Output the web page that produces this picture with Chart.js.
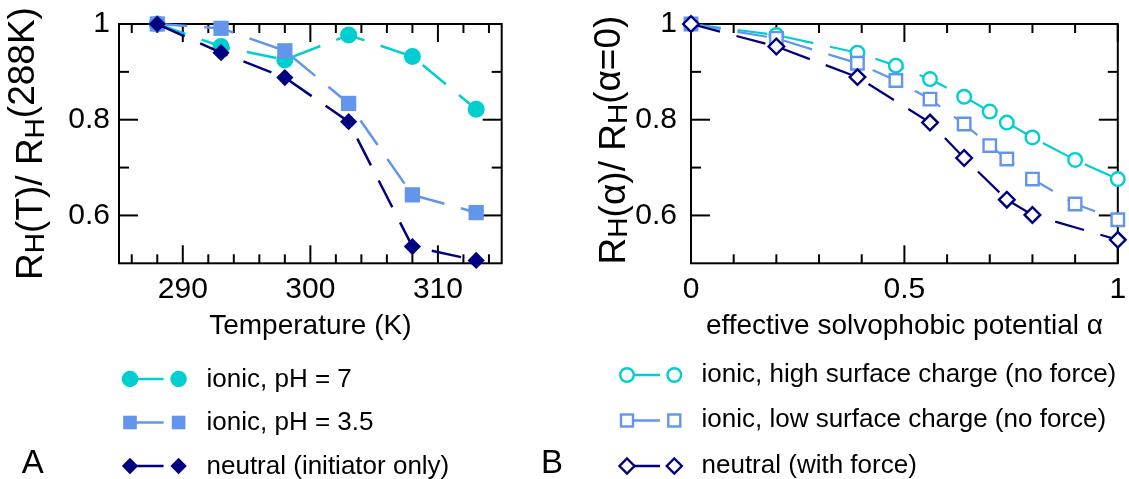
<!DOCTYPE html>
<html><head><meta charset="utf-8">
<script src="https://cdn.jsdelivr.net/npm/chart.js@4"></script>
<style>
html,body{margin:0;padding:0;background:#fff;width:1129px;height:479px;overflow:hidden}
#c1{position:absolute;left:0;top:0}
#c2{position:absolute;left:560px;top:0}
#ov{position:absolute;left:0;top:0}
</style></head><body>
<canvas id="c1" width="560" height="345"></canvas>
<canvas id="c2" width="569" height="345"></canvas>
<svg id="ov" width="1129" height="479" xmlns="http://www.w3.org/2000/svg"></svg>
<script>
// ---------- data ----------
const tempK = [288, 293, 298, 303, 308, 313];
const ionicPH7 = [1.0, 0.953, 0.925, 0.977, 0.932, 0.822];
const ionicPH35 = [1.0, 0.991, 0.944, 0.834, 0.643, 0.606];
const neutralInit = [1.0, 0.940, 0.888, 0.796, 0.535, 0.506];

const alphaIonic = [0, 0.2, 0.39, 0.48, 0.56, 0.64, 0.70, 0.74, 0.80, 0.90, 1.0];
const ionicHigh = [1.0, 0.977, 0.940, 0.913, 0.885, 0.848, 0.817, 0.794, 0.763, 0.716, 0.676];
const ionicLow  = [1.0, 0.970, 0.918, 0.882, 0.843, 0.791, 0.746, 0.718, 0.676, 0.624, 0.591];
const alphaNeutral = [0, 0.2, 0.39, 0.56, 0.64, 0.74, 0.80, 1.0];
const neutralForce = [1.0, 0.953, 0.889, 0.794, 0.720, 0.633, 0.601, 0.549];

const xTicksA = [290, 300, 310];
const xTicksB = [0, 0.5, 1];
const yTicks = [0.6, 0.8, 1.0];

const labelsA = ['ionic, pH = 7', 'ionic, pH = 3.5', 'neutral (initiator only)'];
const labelsB = ['ionic, high surface charge (no force)', 'ionic, low surface charge (no force)', 'neutral (with force)'];

const CYAN = '#00CED1', BLUE = '#6495ED', NAVY = '#000080';
const FONT = "'Liberation Sans', Arial, Helvetica, sans-serif";

function pts(xs, ys){ return xs.map((x,i)=>({x:x, y:ys[i]})); }
function range(a,b,s){ const r=[]; for(let v=a; v<=b+1e-9; v+=s) r.push(Math.round(v*1000)/1000); return r; }

// ---------- frame + inward ticks plugin ----------
const frameTicks = {
  id:'frameTicks',
  beforeDatasetsDraw(chart, args, o){
    const {ctx, chartArea:a} = chart; const x = chart.scales.x, y = chart.scales.y;
    ctx.save();
    ctx.strokeStyle = '#000'; ctx.lineWidth = 2; ctx.lineCap = 'butt';
    const seg=(x1,y1,x2,y2)=>{ctx.beginPath();ctx.moveTo(x1,y1);ctx.lineTo(x2,y2);ctx.stroke();};
    const drawX=(vals,len)=>vals.forEach(v=>{const p=x.getPixelForValue(v); seg(p,a.bottom,p,a.bottom-len); seg(p,a.top,p,a.top+len);});
    const drawY=(vals,len)=>vals.forEach(v=>{const p=y.getPixelForValue(v); seg(a.left,p,a.left+len,p); seg(a.right,p,a.right-len,p);});
    drawX(o.xMinor, 9); drawX(o.xMajor, 18);
    drawY(o.yMinor, 10); drawY(o.yMajor, 19);
    ctx.strokeRect(a.left, a.top, a.right-a.left, a.bottom-a.top);
    ctx.restore();
  }
};

function makeChart(id, cfg){
  return new Chart(document.getElementById(id), {
    type:'line',
    data:{datasets:cfg.datasets},
    plugins:[frameTicks],
    options:{
      responsive:false, animation:false, events:[],
      layout:{padding:{left:0, right:cfg.padRight, top:24, bottom:0}},
      plugins:{legend:{display:false}, tooltip:{enabled:false},
        frameTicks:{xMajor:cfg.xMajor, xMinor:cfg.xMinor, yMajor:yTicks, yMinor:[0.7,0.9]}},
      scales:{
        x:{type:'linear', min:cfg.xmin, max:cfg.xmax,
           grid:{display:false, drawTicks:false}, border:{display:false},
           afterBuildTicks:s=>{s.ticks = cfg.xMajor.map(v=>({value:v}));},
           afterFit:s=>{s.height = 345-263.3; s.paddingLeft=0; s.paddingRight=0;},
           ticks:{autoSkip:false, maxRotation:0, padding:8, color:'#000', font:{family:FONT, size:30},
                  callback:v=>String(v)},
           title:{display:true, text:cfg.xTitle, color:'#000', font:{family:FONT, size:28}, padding:{top:0,bottom:2}}},
        y:{type:'linear', min:0.5, max:1.0,
           grid:{display:false, drawTicks:false}, border:{display:false},
           afterBuildTicks:s=>{s.ticks = yTicks.map(v=>({value:v}));},
           afterFit:s=>{s.width = cfg.yWidth; s.paddingTop=0; s.paddingBottom=0;},
           ticks:{autoSkip:false, padding:cfg.yPad, color:'#000', font:{family:FONT, size:30},
                  callback:v=>String(v)}}
      }
    }
  });
}

const minorA = range(286, 314, 2).filter(v=>!xTicksA.includes(v));
const minorB = range(0.1, 0.9, 0.1).filter(v=>!xTicksB.includes(v));

const lineBase = {showLine:true, tension:0, clip:false, borderDash:[30,17], borderCapStyle:'butt', fill:false};

makeChart('c1', {
  xmin:285, xmax:315, xMajor:xTicksA, xMinor:minorA, padRight:560-501.7, yWidth:119, yPad:9,
  xTitle:'Temperature (K)',
  datasets:[
    Object.assign({}, lineBase, {label:labelsA[0], data:pts(tempK, ionicPH7), borderColor:CYAN, borderWidth:2.5,
      pointStyle:'circle', pointRadius:8.5, pointBackgroundColor:CYAN, pointBorderColor:CYAN, pointBorderWidth:0, order:3}),
    Object.assign({}, lineBase, {label:labelsA[1], data:pts(tempK, ionicPH35), borderColor:BLUE, borderWidth:2.5,
      pointStyle:'rect', pointRadius:10.8, pointBackgroundColor:BLUE, pointBorderColor:BLUE, pointBorderWidth:0, order:2}),
    Object.assign({}, lineBase, {label:labelsA[2], data:pts(tempK, neutralInit), borderColor:NAVY, borderWidth:2.5,
      pointStyle:'rectRot', pointRadius:8.6, pointBackgroundColor:NAVY, pointBorderColor:NAVY, pointBorderWidth:0, order:1})
  ]
});

makeChart('c2', {
  xmin:0, xmax:1, xMajor:xTicksB, xMinor:minorB, padRight:569-562.3, yWidth:131, yPad:14,
  xTitle:'effective solvophobic potential \u03b1',
  datasets:[
    Object.assign({}, lineBase, {label:labelsB[0], data:pts(alphaIonic, ionicHigh), borderColor:CYAN, borderWidth:2.2,
      pointStyle:'circle', pointRadius:6.8, pointBackgroundColor:'#fff', pointBorderColor:CYAN, pointBorderWidth:2.4, order:3}),
    Object.assign({}, lineBase, {label:labelsB[1], data:pts(alphaIonic, ionicLow), borderColor:BLUE, borderWidth:2.2,
      pointStyle:'rect', pointRadius:8.8, pointBackgroundColor:'#fff', pointBorderColor:BLUE, pointBorderWidth:2.4, order:2}),
    Object.assign({}, lineBase, {label:labelsB[2], data:pts(alphaNeutral, neutralForce), borderColor:NAVY, borderWidth:2.2,
      pointStyle:'rectRot', pointRadius:7.8, pointBackgroundColor:'#fff', pointBorderColor:NAVY, pointBorderWidth:2.4, order:1})
  ]
});

// ---------- overlay text: axis titles, legends, panel letters ----------
const svg = document.getElementById('ov');
const NS = 'http://www.w3.org/2000/svg';
function el(tag, attrs, parent){ const e=document.createElementNS(NS, tag); for(const k in attrs) e.setAttribute(k, attrs[k]); (parent||svg).appendChild(e); return e; }
function txt(parent, s, attrs){ const t = el('tspan', attrs||{}, parent); t.textContent = s; return t; }

function yTitle(x, y, parts){
  const t = el('text', {transform:`translate(${x},${y}) rotate(-90)`, 'text-anchor':'middle', 'font-family':FONT, 'font-size':37, fill:'#000'});
  parts.forEach(p=>txt(t, p[0], p[1]));
}
yTitle(41.7, 143.5, [['R'],['H',{'font-size':28,dy:2}],['(T)/ R',{dy:-2}],['H',{'font-size':28,dy:2}],['(288K)',{dy:-10}]]);
yTitle(625, 140, [['R'],['H',{'font-size':28,dy:2}],['(\u03b1)/ R',{dy:-2}],['H',{'font-size':28,dy:2}],['(\u03b1=0)',{dy:-7}]]);

function marker(kind, cx, cy, color, filled, s){
  const common = filled ? {fill:color} : {fill:'#fff', stroke:color, 'stroke-width':2.4};
  if(kind==='circle') el('circle', Object.assign({cx, cy, r:s}, common));
  else if(kind==='rect') el('rect', Object.assign({x:cx-s, y:cy-s, width:2*s, height:2*s}, common));
  else el('polygon', Object.assign({points:`${cx},${cy-s} ${cx+s},${cy} ${cx},${cy+s} ${cx-s},${cy}`}, common));
}
function legend(labels, rows, x1, x2, lineEnd, textX, base, filled, sizes){
  const kinds=['circle','rect','diamond'], cols=[CYAN,BLUE,NAVY];
  labels.forEach((lab,i)=>{
    const cy=rows[i];
    el('line',{x1:x1, y1:cy, x2:lineEnd, y2:cy, stroke:cols[i], 'stroke-width':2.4});
    marker(kinds[i], x1, cy, cols[i], filled, sizes[i]);
    marker(kinds[i], x2, cy, cols[i], filled, sizes[i]);
    const t = el('text',{x:textX, y:cy+base, 'font-family':FONT, 'font-size':26, fill:'#000'}); t.textContent = lab;
  });
}
legend(labelsA, [379, 422.5, 466], 130, 178.6, 163.6, 206.5, 7.5, true, [8.3, 6.8, 8.2]);
legend(labelsB, [375, 420.5, 466], 627, 674.3, 660, 701.5, 6.5, false, [6.8, 6.0, 7.5]);

const A = el('text',{x:21.7, y:473, 'font-family':FONT, 'font-size':33, fill:'#000'}); A.textContent='A';
const B = el('text',{x:541, y:473, 'font-family':FONT, 'font-size':33, fill:'#000'}); B.textContent='B';
</script>
</body></html>
